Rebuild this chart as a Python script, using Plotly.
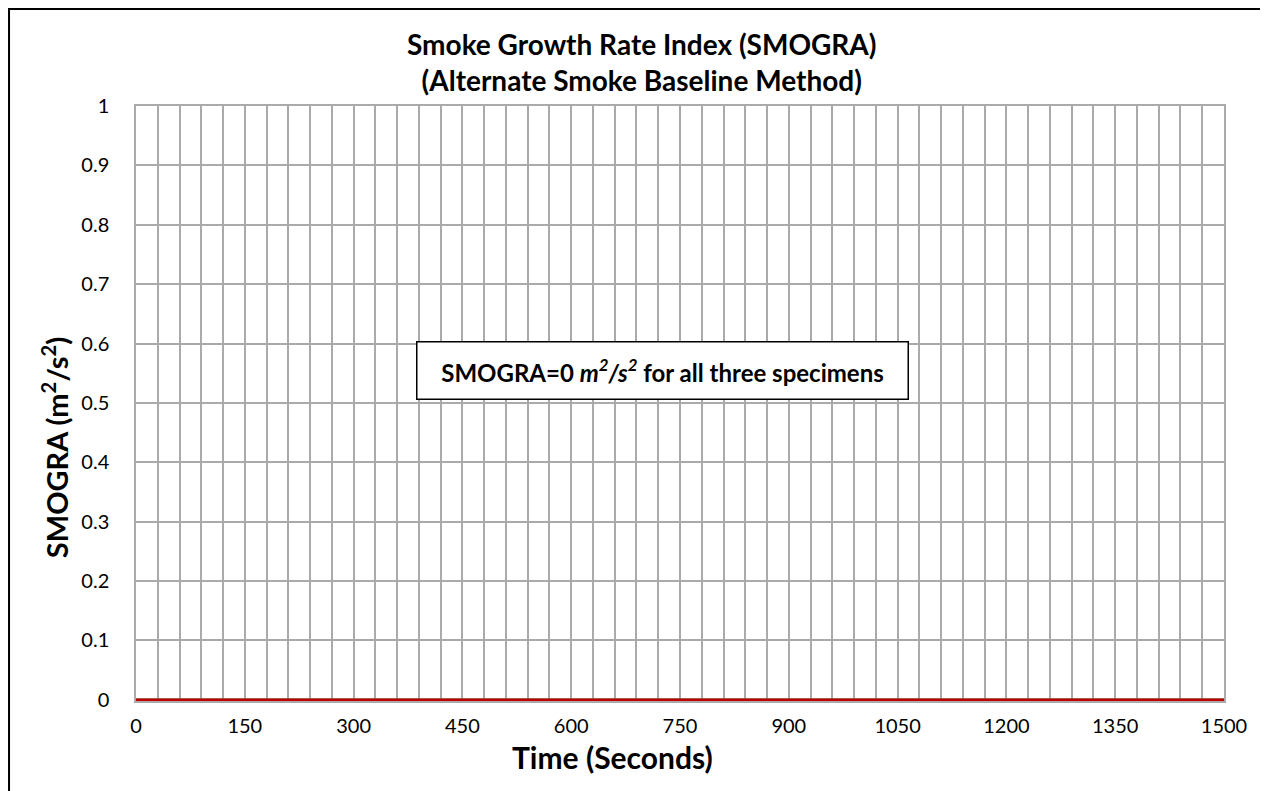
import plotly.graph_objects as go

# SMOGRA results (alternate smoke baseline method) - all three specimens are zero
time_s = [0, 150, 300, 450, 600, 750, 900, 1050, 1200, 1350, 1500]
specimen_1 = [0, 0, 0, 0, 0, 0, 0, 0, 0, 0, 0]
specimen_2 = [0, 0, 0, 0, 0, 0, 0, 0, 0, 0, 0]
specimen_3 = [0, 0, 0, 0, 0, 0, 0, 0, 0, 0, 0]

x_ticks = [0, 150, 300, 450, 600, 750, 900, 1050, 1200, 1350, 1500]
y_ticks = [0, 0.1, 0.2, 0.3, 0.4, 0.5, 0.6, 0.7, 0.8, 0.9, 1]

FONT = "Lato, Carlito, Calibri, sans-serif"
GRID = "#aaaaaa"

fig = go.Figure()
for name, vals, color in [("Specimen 1", specimen_1, "#4472c4"),
                          ("Specimen 2", specimen_2, "#70ad47"),
                          ("Specimen 3", specimen_3, "#c00000")]:
    fig.add_trace(go.Scatter(x=time_s, y=vals, mode="lines", name=name,
                             line=dict(color=color, width=2.5)))

# page body has an 8px margin, so the figure is a bit smaller than the window
fig.update_layout(
    width=1260, height=783,
    margin=dict(l=128, r=44, t=98, b=90),
    paper_bgcolor="white", plot_bgcolor="white",
    showlegend=False,
    font=dict(family=FONT, color="black"),
)

fig.update_xaxes(
    range=[0, 1500], tickvals=x_ticks, ticks="",
    tickfont=dict(size=20, family=FONT),
    showgrid=True, gridcolor=GRID, gridwidth=1.5,
    minor=dict(dtick=30, tick0=0, showgrid=True, gridcolor=GRID, gridwidth=1.5),
    zeroline=False, showline=True, linecolor=GRID, linewidth=1.5, mirror=True,
    ticklabelstandoff=6,
)
fig.update_yaxes(
    range=[-0.002, 1], tickvals=y_ticks, ticktext=[f"{v:g}" for v in y_ticks],
    ticks="", tickfont=dict(size=20, family=FONT),
    showgrid=True, gridcolor=GRID, gridwidth=1.5,
    zeroline=False, showline=True, linecolor=GRID, linewidth=1.5, mirror=True,
    ticklabelstandoff=21,
)

# chart title
fig.add_annotation(
    text="<b>Smoke Growth Rate Index (SMOGRA)<br>(Alternate Smoke Baseline Method)</b>",
    xref="paper", yref="paper", x=0.465, y=1.074,
    xanchor="center", yanchor="middle", showarrow=False,
    font=dict(size=28, family=FONT), align="center",
)
# axis titles
fig.add_annotation(
    text="<b>Time (Seconds)</b>", xref="paper", yref="paper",
    x=0.4375, y=-0.094, xanchor="center", yanchor="middle", showarrow=False,
    font=dict(size=30, family=FONT),
)
fig.add_annotation(
    text="<b>SMOGRA (m<sup>2</sup>/s<sup>2</sup>)</b>", xref="paper", yref="paper",
    x=-0.0744, y=0.425, xanchor="center", yanchor="middle", showarrow=False,
    textangle=-90, font=dict(size=29, family=FONT),
)
# note box
fig.add_annotation(
    text="<b>SMOGRA=0 <i>m<sup>2</sup>/s<sup>2</sup></i> for all three specimens</b>",
    x=726, y=0.5546, xanchor="center", yanchor="middle", showarrow=False,
    font=dict(size=24, family=FONT),
    bgcolor="white", bordercolor="black", borderwidth=1.5, borderpad=0,
    width=490, height=56,
)

# outer chart-area border (kept just inside the figure edge)
fig.add_shape(type="rect", xref="paper", yref="paper",
              x0=-0.1167, x1=1.0354, y0=-0.2, y1=1.163,
              line=dict(color="black", width=2), fillcolor="rgba(0,0,0,0)",
              layer="above")

fig.write_html("out.html")
